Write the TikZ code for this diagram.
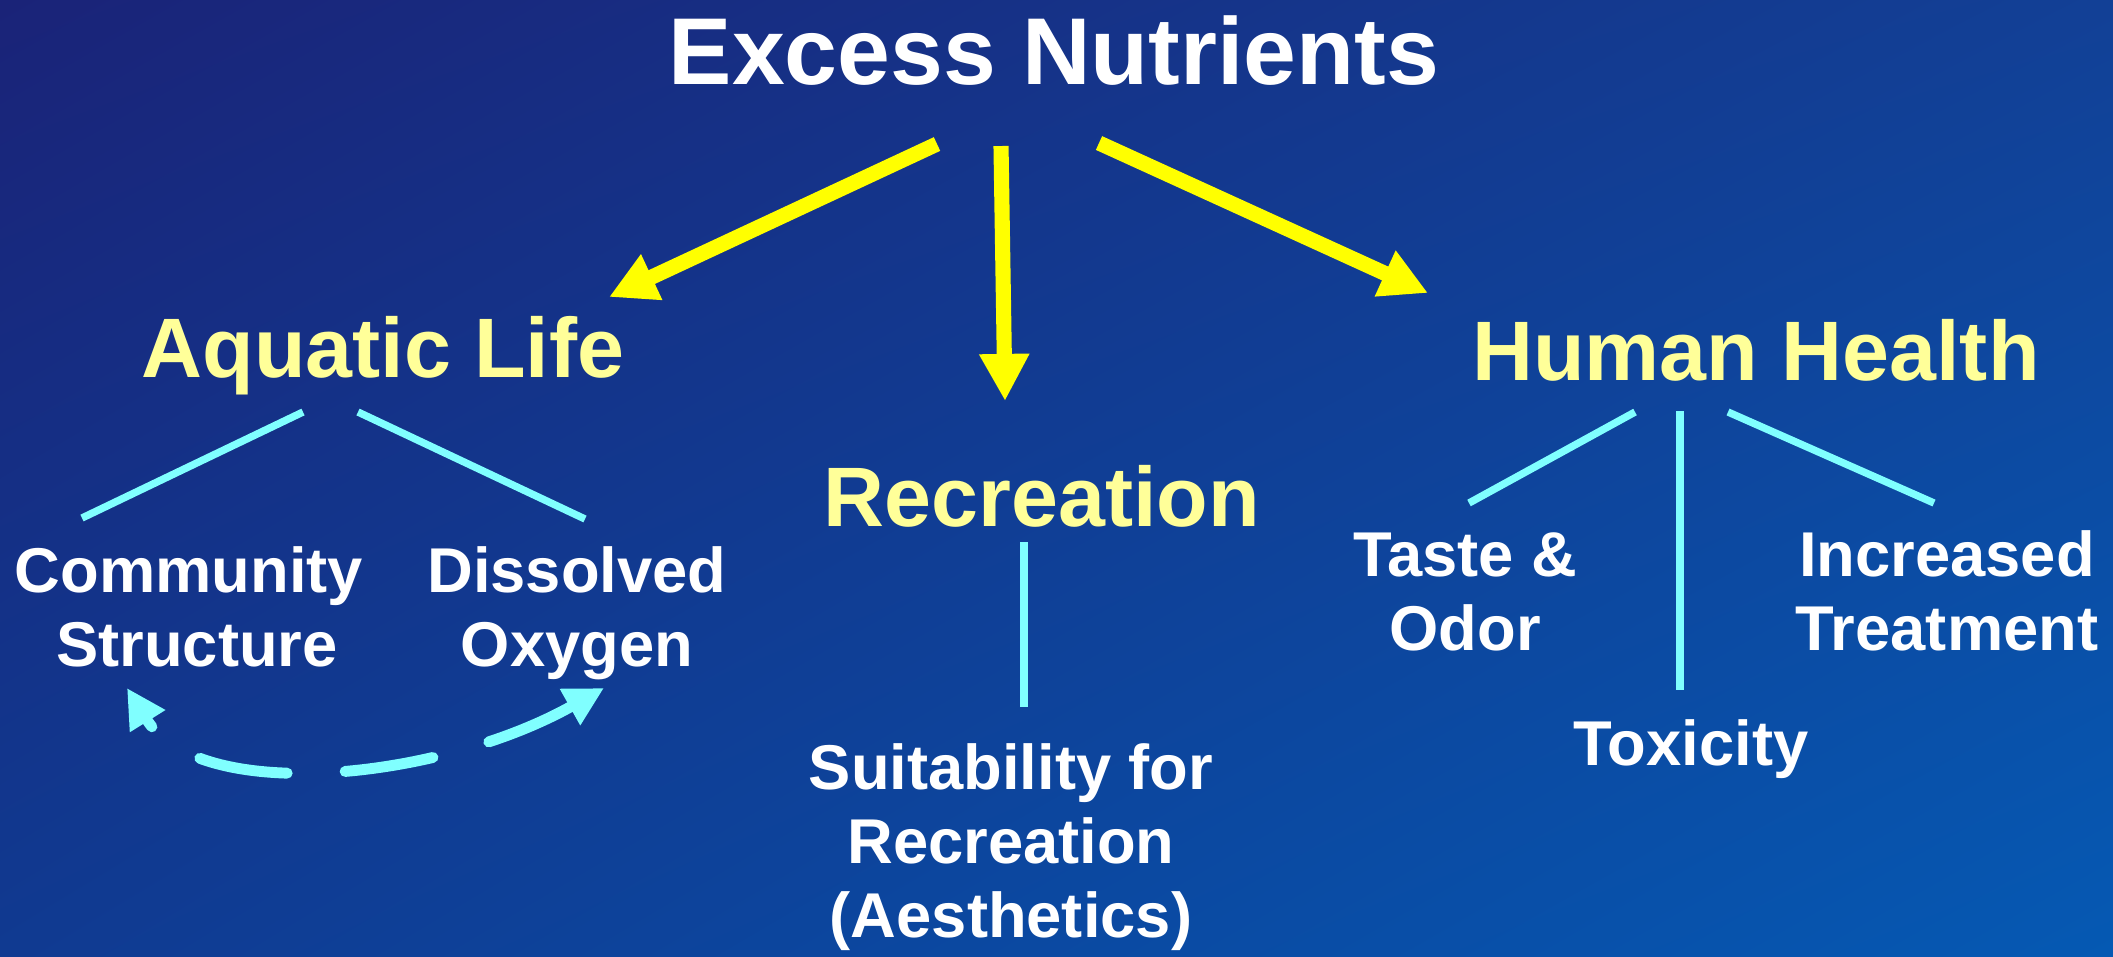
\documentclass[tikz,border=0pt]{standalone}
\usepackage{fontspec}
\setmainfont{Liberation Sans}
\usetikzlibrary{arrows.meta,calc,shadings}
\definecolor{bgtl}{RGB}{26,35,120}
\definecolor{bgtr}{RGB}{18,64,150}
\definecolor{bgbl}{RGB}{16,58,145}
\definecolor{bgbr}{RGB}{5,89,179}
\definecolor{headyel}{RGB}{255,255,153}
\definecolor{arryel}{RGB}{255,255,0}
\definecolor{linkcyan}{RGB}{128,255,255}
\begin{document}
\begin{tikzpicture}[
		x=0.01cm, y=-0.01cm,
		txt/.style={inner sep=0pt, anchor=base, align=center},
		top/.style={txt, text=white, font=\bfseries\fontsize{27}{31}\selectfont},
		head/.style={txt, text=headyel, font=\bfseries\fontsize{24}{28}\selectfont},
		sub/.style={txt, text=white, font=\bfseries\fontsize{18}{21}\selectfont},
		arr/.style={-{Triangle[length=13.4pt,width=13.4pt]}, line width=4.3pt, draw=arryel},
		link/.style={line width=2.1pt, draw=linkcyan},
		cyc/.style={{Triangle[length=11.1pt,width=11.1pt]}-{Triangle[length=11.1pt,width=11.1pt]},
			line width=3.1pt, draw=linkcyan, line cap=round,
			dash pattern=on 25.3pt off 16.5pt, dash phase=22.6pt},
	]
		\useasboundingbox (0,0) rectangle (2113,956);
		\shade[upper left=bgtl, upper right=bgtr, lower left=bgbl, lower right=bgbr]
			(0,0) rectangle (2113,956);

		% Oberbegriff und Bereiche (Grundlinie = letzte Zeile)
		\node[top] (title) at (1054,84) {Excess Nutrients};
		\node[head] (aqua) at (383,377) {Aquatic Life};
		\node[head] (recr) at (1042,526) {Recreation};
		\node[head] (human) at (1756,380) {Human Health};

		% Unterpunkte
		\node[sub] (comm) at (189,666) {Community\\\hspace*{4.5pt}Structure};
		\node[sub] (oxy) at (577,666) {Dissolved\\Oxygen};
		\node[sub] (suit) at (1011,937) {Suitability for\\Recreation\\(Aesthetics)};
		\node[sub] (taste) at (1465,650) {Taste \&\\Odor};
		\node[sub] (tox) at (1691,765) {Toxicity};
		\node[sub] (treat) at (1947,650) {Increased\\Treatment};

		% Pfeile vom Oberbegriff
		\draw[arr] ($(title.base)+(-117,60)$) -- ($(aqua.base)+(226,-80)$);
		\draw[arr] ($(title.base)+(-53,62)$) -- ($(recr.base)+(-37,-125)$);
		\draw[arr] ($(title.base)+(45,59)$) -- ($(human.base)+(-328,-87)$);

		% Verbindungen zu den Unterpunkten
		\draw[link] ($(aqua.base)+(-80,35)$) -- ($(comm.base)+(-107,-148)$);
		\draw[link] ($(aqua.base)+(-25,35)$) -- ($(oxy.base)+(8,-147)$);
		\draw[link] ($(recr.base)+(-18,16)$) -- ($(suit.base)+(13,-230)$);
		\draw[link] ($(human.base)+(-121,32)$) -- ($(taste.base)+(4,-147)$);
		\draw[link] ($(human.base)+(-76,31)$) -- ($(tox.base)+(-11,-75)$);
		\draw[link] ($(human.base)+(-28,32)$) -- ($(treat.base)+(-13,-147)$);

		% Wechselwirkung
		\draw[cyc] ($(comm.base)+(-62,22)$) .. controls (200,805) and (440,780)
			.. ($(oxy.base)+(27,22)$);
	\end{tikzpicture}
\end{document}
